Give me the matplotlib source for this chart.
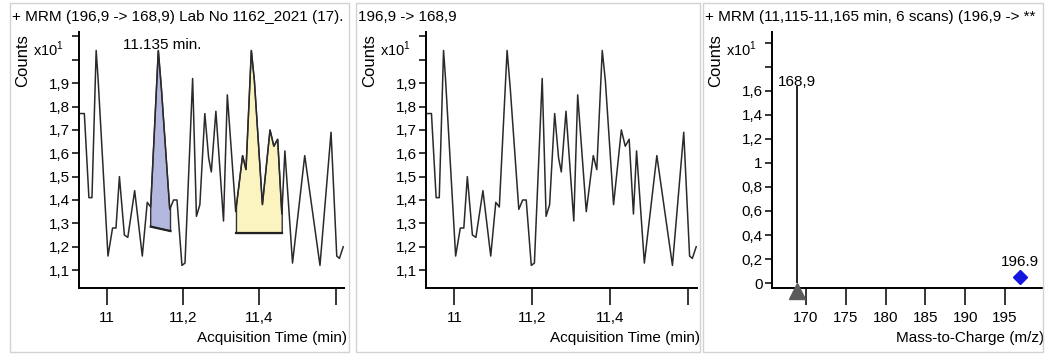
import numpy as np
import matplotlib
matplotlib.use('Agg')
import matplotlib.pyplot as plt
from matplotlib.patches import Rectangle, Polygon
from matplotlib.transforms import Bbox, TransformedBbox, ScaledTranslation

plt.rcParams['font.family'] = ['Liberation Sans', 'DejaVu Sans']
plt.rcParams['mathtext.fontset'] = 'custom'
plt.rcParams['mathtext.rm'] = 'Liberation Sans'

# MRM chromatogram 196,9 -> 168,9 (counts x10^1)
time_min = [10.931, 10.941, 10.953, 10.961, 10.972, 10.977, 11.003, 11.015, 11.024, 11.033,
            11.046, 11.055, 11.073, 11.093, 11.106, 11.115, 11.135, 11.143, 11.165, 11.175,
            11.184, 11.197, 11.205, 11.225, 11.235, 11.244, 11.257, 11.267, 11.274, 11.286,
            11.306, 11.316, 11.338, 11.356, 11.365, 11.379, 11.387, 11.408, 11.428, 11.438,
            11.448, 11.459, 11.467, 11.487, 11.519, 11.559, 11.588, 11.603, 11.610, 11.620]
counts = [1.77, 1.77, 1.41, 1.41, 2.04, 1.92, 1.16, 1.28, 1.28, 1.50,
          1.25, 1.24, 1.44, 1.16, 1.39, 1.37, 2.04, 1.88, 1.36, 1.40,
          1.40, 1.12, 1.13, 1.92, 1.33, 1.38, 1.77, 1.58, 1.52, 1.78,
          1.31, 1.85, 1.35, 1.59, 1.53, 2.04, 1.91, 1.38, 1.70, 1.63,
          1.66, 1.34, 1.61, 1.13, 1.59, 1.12, 1.69, 1.16, 1.15, 1.20]

# integrated peaks (start, end, baseline at start / end)
peak_start = [11.115, 11.340]
peak_end = [11.167, 11.460]
base_start = [1.286, 1.257]
base_end = [1.267, 1.257]
peak_colors = ['#b4b8df', '#fbf4c1']
peak_label = '11.135 min.'
peak_label_time = 11.135

# spectrum (11,115-11,165 min)
product_mz = [168.9]
product_int = [1.64]
precursor_mz = [196.9]
precursor_int = [0.05]

chrom_yticks = [1.1, 1.2, 1.3, 1.4, 1.5, 1.6, 1.7, 1.8, 1.9, 2.0, 2.1]
chrom_xticks = [11.0, 11.2, 11.4, 11.6]
spec_yticks = [0, 0.2, 0.4, 0.6, 0.8, 1.0, 1.2, 1.4, 1.6, 1.8, 2.0]
spec_xticks = [170, 175, 180, 185, 190, 195]

titles = ['+ MRM (196,9 -> 168,9) Lab No 1162_2021 (17).',
          '196,9 -> 168,9',
          '+ MRM (11,115-11,165 min, 6 scans) (196,9 -> **']


def comma(v, maxlab=None):
    if maxlab is not None and v > maxlab + 1e-9:
        return ''
    s = ('%.1f' % v).replace('.', ',')
    return s[:-2] if s.endswith(',0') else s


W, H = 1046, 356
fig = plt.figure(figsize=(W / 100, H / 100), dpi=100)
fig.patch.set_facecolor('white')

boxes = [(10, 3, 349, 352), (356, 3, 700, 352), (703, 3, 1043, 352)]
for (x0, y0, x1, y1), t in zip(boxes, titles):
    fig.patches.append(Rectangle((x0 / W, 1 - y1 / H), (x1 - x0) / W, (y1 - y0) / H,
                                 transform=fig.transFigure, fill=False,
                                 edgecolor='#d2d2d2', lw=1.0))
    txt = fig.text((x0 + 2) / W, 1 - 17 / H, t, fontsize=11, ha='left', va='center')
    clip = TransformedBbox(Bbox.from_extents(x0 / W, 1 - y1 / H, (x1 - 1) / W, 1 - y0 / H),
                           fig.transFigure)
    txt.set_clip_box(clip)
    txt.set_clip_on(True)


def add_ax(x0, x1, y0, y1):
    return fig.add_axes([x0 / W, 1 - y1 / H, (x1 - x0) / W, (y1 - y0) / H])


def style(ax, left_px, xlabel):
    for s in ['top', 'right']:
        ax.spines[s].set_visible(False)
    for s in ['left', 'bottom']:
        ax.spines[s].set_linewidth(1.4)
    ax.tick_params(axis='y', length=5, width=1.1, pad=1.5, labelsize=11)
    ax.tick_params(axis='x', length=12, width=1.1, pad=4, labelsize=11)
    ax.set_xlabel(xlabel, fontsize=11, ha='right')
    ax.xaxis.set_label_coords(1.01, -0.165)
    fig.text((left_px - 56) / W, 1 - 61 / H, 'Counts', rotation=90,
             fontsize=12, ha='center', va='center')
    fig.text((left_px - 15) / W, 1 - 49 / H, r'x10$^{\mathregular{1}}$',
             fontsize=10.5, ha='right', va='center')


t = np.array(time_min)
c = np.array(counts)

for left, right, show_peaks in [(79, 344, True), (426, 697, False)]:
    ax = add_ax(left, right, 32, 288.3)
    ax.plot(t, c, color='#2a2a2a', lw=1.1, zorder=3)
    if show_peaks:
        for ps, pe, bs, be, col in zip(peak_start, peak_end, base_start, base_end, peak_colors):
            inside = (t > ps) & (t < pe)
            xs = np.concatenate([[ps], t[inside], [pe]])
            ys = np.concatenate([[np.interp(ps, t, c)], c[inside], [np.interp(pe, t, c)]])
            verts = list(zip(xs, ys)) + [(pe, be), (ps, bs)]
            ax.add_patch(Polygon(verts, closed=True, facecolor=col,
                                 edgecolor='#333333', lw=1.0, zorder=2))
            ax.plot([ps, pe], [bs, be], color='#222222', lw=1.6, zorder=4)
        ax.annotate(peak_label, xy=(peak_label_time, np.interp(peak_label_time, t, c)),
                    xytext=(3, 1), textcoords='offset points', ha='center',
                    va='baseline', fontsize=11)
    ax.set_xlim(10.927, 11.622)
    ax.set_ylim(1.022, 2.119)
    ax.set_yticks(chrom_yticks)
    ax.set_yticklabels([comma(v, 1.9) for v in chrom_yticks])
    ax.set_xticks(chrom_xticks)
    ax.set_xticklabels([comma(v, 11.4) if v != 11.0 else '11' for v in chrom_xticks])
    style(ax, left, 'Acquisition Time (min)')

# spectrum panel
ax = add_ax(771.7, 1041.7, 31.7, 288.3)
ax.vlines(product_mz, 0, product_int, color='#111111', lw=1.3)
for mz, it in zip(product_mz, product_int):
    ax.annotate(comma(mz), xy=(mz, it), xytext=(0, 2.5), textcoords='offset points',
                ha='center', va='center', fontsize=11)
tri_off = ax.transData + ScaledTranslation(0, -8 / 100, fig.dpi_scale_trans)
ax.plot(product_mz, [0] * len(product_mz), marker='^', color='#5a5a5a', ms=12,
        ls='none', transform=tri_off, clip_on=False, zorder=5)
ax.plot(precursor_mz, precursor_int, marker='D', color='#1515e0', ms=7.5, ls='none',
        clip_on=False, zorder=5)
for mz, it in zip(precursor_mz, precursor_int):
    ax.annotate('%.1f' % mz, xy=(mz, it), xytext=(0, 11), textcoords='offset points',
                ha='center', va='center', fontsize=11)
ax.set_xlim(165.7, 199.6)
ax.set_ylim(-0.043, 2.09)
ax.set_yticks(spec_yticks)
ax.set_yticklabels([comma(v, 1.6) for v in spec_yticks])
ax.set_xticks(spec_xticks)
ax.set_xticklabels([str(v) for v in spec_xticks])
style(ax, 771.7, 'Mass-to-Charge (m/z)')

fig.savefig('out.png', dpi=100, facecolor='white')
